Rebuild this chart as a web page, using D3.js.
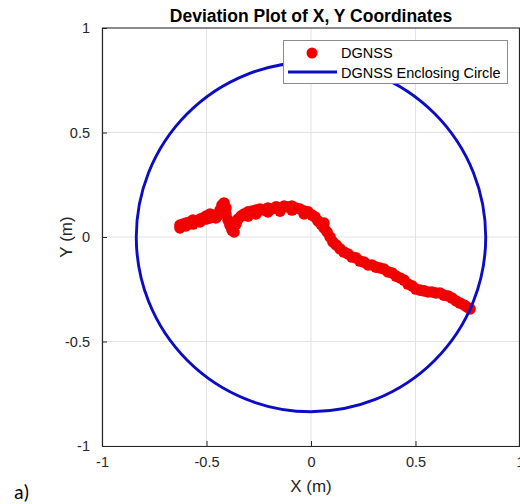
<!DOCTYPE html>
<html>
<head>
<meta charset="utf-8">
<script src="https://cdn.jsdelivr.net/npm/d3@7"></script>
<style>
  html, body { margin: 0; padding: 0; background: #fff; overflow: hidden; }
  svg { display: block; font-family: "Liberation Sans", Arial, sans-serif; }
</style>
</head>
<body>
<svg id="chart" width="520" height="504"></svg>
<script>
// DGNSS position deviations (metres)
const devX = [
  -0.627, -0.627, -0.612, -0.598, -0.598, -0.579, -0.565, -0.565, -0.550, -0.531,
  -0.531, -0.517, -0.502, -0.502, -0.483, -0.483, -0.469, -0.455, -0.445, -0.435,
  -0.426, -0.416, -0.407, -0.407, -0.397, -0.388, -0.378, -0.373, -0.368, -0.359,
  -0.349, -0.335, -0.321, -0.301, -0.301, -0.282, -0.263, -0.263, -0.244, -0.225,
  -0.206, -0.206, -0.187, -0.167, -0.148, -0.148, -0.129, -0.110, -0.091, -0.091,
  -0.072, -0.053, -0.033, -0.033, -0.014,  0.005,  0.019,  0.033,  0.048,  0.062,
   0.062,  0.077,  0.091,  0.105,  0.120,  0.139,  0.158,  0.177,  0.196,  0.215,
   0.234,  0.254,  0.273,  0.292,  0.311,  0.330,  0.349,  0.368,  0.388,  0.407,
   0.426,  0.445,  0.464,  0.483,  0.502,  0.522,  0.541,  0.560,  0.579,  0.598,
   0.617,  0.636,  0.656,  0.675,  0.694,  0.713,  0.732,  0.746,  0.761
];
const devY = [
   0.057,  0.043,  0.062,  0.067,  0.053,  0.072,  0.081,  0.062,  0.077,  0.086,
   0.072,  0.091,  0.100,  0.086,  0.110,  0.091,  0.105,  0.091,  0.105,  0.129,
   0.153,  0.163,  0.139,  0.110,  0.081,  0.057,  0.033,  0.053,  0.024,  0.062,
   0.086,  0.100,  0.110,  0.120,  0.100,  0.124,  0.129,  0.110,  0.134,  0.129,
   0.139,  0.120,  0.134,  0.144,  0.139,  0.124,  0.148,  0.144,  0.148,  0.129,
   0.139,  0.134,  0.124,  0.110,  0.120,  0.105,  0.096,  0.077,  0.062,  0.043,
   0.067,  0.024,  0.000, -0.024, -0.038, -0.057, -0.072, -0.081, -0.096, -0.100,
  -0.115, -0.120, -0.134, -0.134, -0.144, -0.148, -0.153, -0.167, -0.172, -0.187,
  -0.196, -0.206, -0.225, -0.234, -0.249, -0.254, -0.258, -0.263, -0.263, -0.268,
  -0.268, -0.278, -0.282, -0.292, -0.306, -0.316, -0.325, -0.335, -0.344
];

// Enclosing circle of the DGNSS fixes
const circleCenter = [0, 0];
const circleRadius = 0.836;

// Axis ticks
const xTicks = [-1, -0.5, 0, 0.5, 1];
const yTicks = [-1, -0.5, 0, 0.5, 1];
const xTickLabels = ["-1", "-0.5", "0", "0.5", "1"];
const yTickLabels = ["-1", "-0.5", "0", "0.5", "1"];

const legendLabels = ["DGNSS", "DGNSS Enclosing Circle"];

const svg = d3.select("#chart");
const box = { left: 102, right: 520, top: 28, bottom: 446 };

const x = d3.scaleLinear().domain([-1, 1]).range([box.left, box.right]);
const y = d3.scaleLinear().domain([-1, 1]).range([box.bottom, box.top]);

const axisColor = "#262626";
const gridColor = "#e3e3e3";
const red = "#f20000";
const blue = "#0c0cc4";

// grid
const grid = svg.append("g");
grid.selectAll("line.gx").data(xTicks).join("line")
  .attr("x1", d => x(d)).attr("x2", d => x(d))
  .attr("y1", box.top).attr("y2", box.bottom)
  .attr("stroke", gridColor).attr("stroke-width", 1);
grid.selectAll("line.gy").data(yTicks).join("line")
  .attr("y1", d => y(d)).attr("y2", d => y(d))
  .attr("x1", box.left).attr("x2", box.right)
  .attr("stroke", gridColor).attr("stroke-width", 1);

svg.append("clipPath").attr("id", "plotClip")
  .append("rect").attr("x", box.left).attr("y", box.top)
  .attr("width", box.right - box.left).attr("height", box.bottom - box.top);

const plot = svg.append("g").attr("clip-path", "url(#plotClip)");

// data points
const pts = devX.map((v, i) => [v, devY[i]]);
plot.selectAll("circle.pt").data(pts).join("circle")
  .attr("class", "pt")
  .attr("cx", d => x(d[0])).attr("cy", d => y(d[1]))
  .attr("r", 5.8)
  .attr("fill", red);

// enclosing circle
plot.append("ellipse")
  .attr("cx", x(circleCenter[0])).attr("cy", y(circleCenter[1]))
  .attr("rx", x(circleCenter[0] + circleRadius) - x(circleCenter[0]))
  .attr("ry", y(circleCenter[1]) - y(circleCenter[1] + circleRadius))
  .attr("fill", "none").attr("stroke", blue).attr("stroke-width", 2.9);

// axes (ticks point inward)
const xAxis = d3.axisBottom(x).tickValues(xTicks)
  .tickFormat((d, i) => xTickLabels[i]).tickSizeInner(-5).tickSizeOuter(0).tickPadding(11);
const yAxis = d3.axisLeft(y).tickValues(yTicks)
  .tickFormat((d, i) => yTickLabels[i]).tickSizeInner(-5).tickSizeOuter(0).tickPadding(12);

const gx = svg.append("g").attr("transform", `translate(0,${box.bottom})`).call(xAxis);
const gy = svg.append("g").attr("transform", `translate(${box.left},0)`).call(yAxis);
[gx, gy].forEach(g => {
  g.select(".domain").attr("stroke", axisColor).attr("stroke-width", 1.2);
  g.selectAll(".tick line").attr("stroke", axisColor).attr("stroke-width", 1);
  g.selectAll(".tick text").attr("fill", "#262626")
    .style("font-size", "14.5px").style("font-family", "Liberation Sans, Arial, sans-serif");
});
// box top / right
svg.append("line").attr("x1", box.left).attr("x2", box.right).attr("y1", box.top).attr("y2", box.top)
  .attr("stroke", axisColor).attr("stroke-width", 1.2);
svg.append("line").attr("x1", box.right - 0.5).attr("x2", box.right - 0.5)
  .attr("y1", box.top).attr("y2", box.bottom)
  .attr("stroke", axisColor).attr("stroke-width", 1.2);

// title and labels
svg.append("text").attr("x", (box.left + box.right) / 2).attr("y", 22)
  .attr("text-anchor", "middle").attr("font-weight", "bold").attr("font-size", 17.5)
  .attr("fill", "#000").text("Deviation Plot of X, Y Coordinates");
svg.append("text").attr("x", x(0)).attr("y", 492)
  .attr("text-anchor", "middle").attr("font-size", 17).attr("fill", "#262626").text("X (m)");
svg.append("text").attr("transform", `translate(72,${y(0)}) rotate(-90)`)
  .attr("text-anchor", "middle").attr("font-size", 17).attr("fill", "#262626").text("Y (m)");
svg.append("text").attr("x", 14).attr("y", 499)
  .attr("font-size", 20).attr("fill", "#000")
  .style("font-family", "Carlito, Calibri, 'Liberation Sans', sans-serif").text("a)");

// legend
const lg = svg.append("g");
lg.append("rect").attr("x", 283.5).attr("y", 40.5).attr("width", 224).attr("height", 43)
  .attr("fill", "#fff").attr("stroke", "#8c8c8c").attr("stroke-width", 1);
lg.append("circle").attr("cx", 312).attr("cy", 53).attr("r", 5.5).attr("fill", red);
lg.append("line").attr("x1", 288).attr("x2", 337).attr("y1", 72).attr("y2", 72)
  .attr("stroke", blue).attr("stroke-width", 2.9);
lg.selectAll("text.lt").data(legendLabels).join("text")
  .attr("x", 341).attr("y", (d, i) => 58 + i * 19.5)
  .attr("font-size", 14.5).attr("fill", "#000").text(d => d);
</script>
</body>
</html>
